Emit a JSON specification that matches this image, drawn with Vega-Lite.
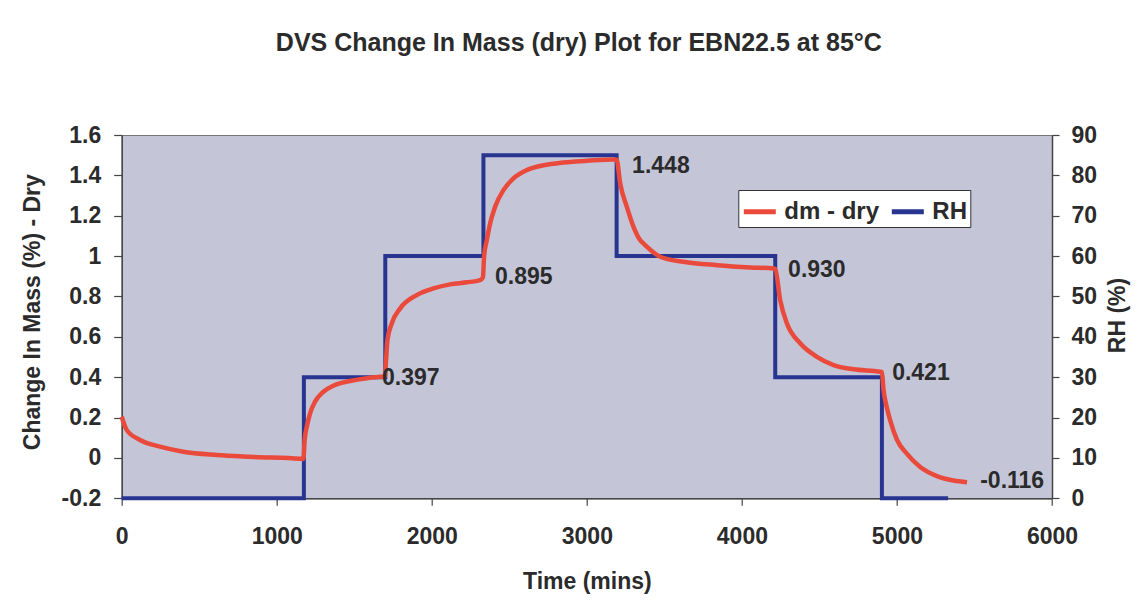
{
  "$schema": "https://vega.github.io/schema/vega-lite/v6.json",
  "width": 930.3,
  "height": 363.3,
  "autosize": {"type": "none"},
  "padding": {"left": 121.7, "top": 135, "right": 91, "bottom": 101.7},
  "background": "white",
  "title": {
    "text": "DVS Change In Mass (dry) Plot for EBN22.5 at 85°C",
    "font": "Liberation Sans",
    "fontSize": 25,
    "fontWeight": "bold",
    "color": "#2b2b2b",
    "anchor": "middle",
    "frame": "group",
    "dx": -8,
    "offset": 68
  },
  "config": {
    "font": "Liberation Sans",
    "view": {"fill": "#c5c5d8", "stroke": "#777777", "strokeWidth": 1},
    "axis": {
      "grid": false,
      "domainColor": "#444444",
      "domainWidth": 1.5,
      "tickColor": "#444444",
      "tickWidth": 1.2,
      "labelFont": "Liberation Sans",
      "labelFontSize": 23,
      "labelFontWeight": "bold",
      "labelColor": "#2b2b2b",
      "titleFont": "Liberation Sans",
      "titleFontSize": 23,
      "titleFontWeight": "bold",
      "titleColor": "#2b2b2b",
      "labelOverlap": false,
      "labelFlush": false
    }
  },
  "datasets": {
    "dm": [
      {"t": 0, "dm": 0.204}, {"t": 32, "dm": 0.139}, {"t": 118, "dm": 0.089}, {"t": 247, "dm": 0.056},
      {"t": 397, "dm": 0.031}, {"t": 613, "dm": 0.015}, {"t": 828, "dm": 0.006}, {"t": 1150, "dm": -0.004},
      {"t": 1172, "dm": -0.005},
      {"t": 1180, "dm": 0.09}, {"t": 1194, "dm": 0.155}, {"t": 1215, "dm": 0.221}, {"t": 1247, "dm": 0.279},
      {"t": 1301, "dm": 0.328}, {"t": 1365, "dm": 0.358}, {"t": 1473, "dm": 0.381}, {"t": 1581, "dm": 0.395},
      {"t": 1667, "dm": 0.402}, {"t": 1697, "dm": 0.404},
      {"t": 1705, "dm": 0.485}, {"t": 1714, "dm": 0.584}, {"t": 1742, "dm": 0.667}, {"t": 1796, "dm": 0.741},
      {"t": 1903, "dm": 0.807}, {"t": 2011, "dm": 0.84}, {"t": 2118, "dm": 0.86}, {"t": 2226, "dm": 0.87},
      {"t": 2312, "dm": 0.881}, {"t": 2330, "dm": 0.895},
      {"t": 2337, "dm": 0.997}, {"t": 2355, "dm": 1.079}, {"t": 2376, "dm": 1.162}, {"t": 2408, "dm": 1.244},
      {"t": 2462, "dm": 1.327}, {"t": 2527, "dm": 1.385}, {"t": 2613, "dm": 1.426}, {"t": 2720, "dm": 1.45},
      {"t": 2849, "dm": 1.464}, {"t": 3000, "dm": 1.472}, {"t": 3172, "dm": 1.479}, {"t": 3192, "dm": 1.478},
      {"t": 3215, "dm": 1.36}, {"t": 3258, "dm": 1.244}, {"t": 3301, "dm": 1.145}, {"t": 3344, "dm": 1.079},
      {"t": 3365, "dm": 1.063}, {"t": 3473, "dm": 0.997}, {"t": 3623, "dm": 0.972}, {"t": 3839, "dm": 0.955},
      {"t": 4054, "dm": 0.944}, {"t": 4204, "dm": 0.939}, {"t": 4215, "dm": 0.936},
      {"t": 4247, "dm": 0.782}, {"t": 4290, "dm": 0.667}, {"t": 4376, "dm": 0.568}, {"t": 4484, "dm": 0.501},
      {"t": 4591, "dm": 0.46}, {"t": 4720, "dm": 0.439}, {"t": 4892, "dm": 0.427}, {"t": 4903, "dm": 0.425},
      {"t": 4913, "dm": 0.34}, {"t": 4935, "dm": 0.25}, {"t": 4957, "dm": 0.185}, {"t": 5000, "dm": 0.09},
      {"t": 5065, "dm": 0.02}, {"t": 5150, "dm": -0.045}, {"t": 5258, "dm": -0.09}, {"t": 5365, "dm": -0.112},
      {"t": 5452, "dm": -0.12}
    ],
    "rh": [
      {"t": 0, "rh": 0}, {"t": 1175, "rh": 30}, {"t": 1700, "rh": 60}, {"t": 2333, "rh": 85},
      {"t": 3192, "rh": 60}, {"t": 4215, "rh": 30}, {"t": 4903, "rh": 0}, {"t": 5330, "rh": 0}
    ],
    "labels": [
      {"t": 1679, "v": 0.397, "label": "0.397"},
      {"t": 2408, "v": 0.895, "label": "0.895"},
      {"t": 3292, "v": 1.448, "label": "1.448"},
      {"t": 4298, "v": 0.93, "label": "0.930"},
      {"t": 4969, "v": 0.421, "label": "0.421"},
      {"t": 5537, "v": -0.116, "label": "-0.116"}
    ]
  },
  "layer": [
    {
      "data": {"name": "rh"},
      "mark": {"type": "line", "interpolate": "step-after", "strokeWidth": 4},
      "encoding": {
        "x": {
          "field": "t", "type": "quantitative",
          "scale": {"domain": [0, 6000], "nice": false, "zero": false},
          "axis": {
            "values": [0, 1000, 2000, 3000, 4000, 5000, 6000],
            "format": "d",
            "title": "Time (mins)",
            "tickSize": 7,
            "labelPadding": 20,
            "titleY": 90,
            "titleBaseline": "alphabetic"
          }
        },
        "y": {
          "field": "rh", "type": "quantitative",
          "scale": {"domain": [0, 90], "nice": false},
          "axis": {
            "orient": "right",
            "values": [0, 10, 20, 30, 40, 50, 60, 70, 80, 90],
            "tickSize": 7,
            "labelPadding": 12,
            "title": "RH (%)",
            "titleAngle": 270,
            "titleX": 72,
            "titleY": 180,
            "titleBaseline": "alphabetic"
          }
        },
        "color": {
          "datum": "RH", "type": "nominal",
          "scale": {"domain": ["dm - dry", "RH"], "range": ["#ea4a3c", "#283590"]},
          "legend": {
            "orient": "none",
            "legendX": 616.6,
            "legendY": 55,
            "direction": "horizontal",
            "title": null,
            "fillColor": "white",
            "strokeColor": "#333333",
            "padding": 3,
            "symbolType": "stroke",
            "symbolSize": 1024,
            "symbolStrokeWidth": 5,
            "labelFont": "Liberation Sans",
            "labelFontSize": 24,
            "labelFontWeight": "bold",
            "labelColor": "#2b2b2b",
            "labelOffset": 6,
            "columnPadding": 2,
            "labelLimit": 300
          }
        }
      }
    },
    {
      "layer": [
        {
          "data": {"name": "dm"},
          "mark": {"type": "line", "interpolate": "monotone", "strokeWidth": 4.5},
          "encoding": {
            "x": {"field": "t", "type": "quantitative"},
            "y": {
              "field": "dm", "type": "quantitative",
              "scale": {"domain": [-0.2, 1.6], "nice": false, "zero": false},
              "axis": {
                "orient": "left",
                "values": [-0.2, 0, 0.2, 0.4, 0.6, 0.8, 1, 1.2, 1.4, 1.6],
                "labelExpr": "'' + round(datum.value * 10) / 10",
                "tickSize": 8,
                "labelPadding": 13,
                "title": "Change In Mass (%) - Dry",
                "titleAngle": 270,
                "titleX": -82.4,
                "titleY": 176.7,
                "titleBaseline": "alphabetic"
              }
            },
            "color": {"datum": "dm - dry", "type": "nominal"}
          }
        },
        {
          "data": {"name": "labels"},
          "mark": {"type": "text", "align": "left", "baseline": "middle", "font": "Liberation Sans", "fontSize": 23, "fontWeight": "bold", "color": "#2b2b2b"},
          "encoding": {
            "x": {"field": "t", "type": "quantitative"},
            "y": {"field": "v", "type": "quantitative"},
            "text": {"field": "label"}
          }
        }
      ]
    }
  ],
  "resolve": {"scale": {"y": "independent"}}
}
